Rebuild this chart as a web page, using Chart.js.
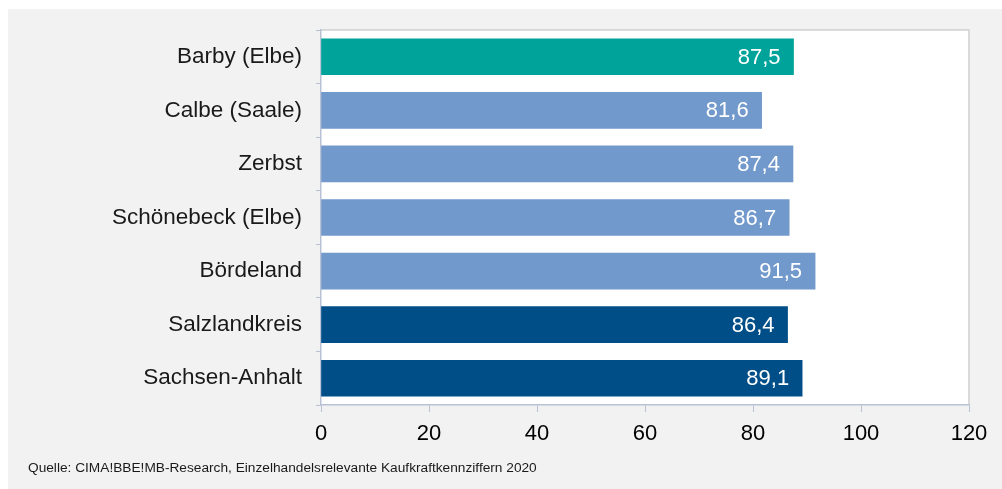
<!DOCTYPE html>
<html>
<head>
<meta charset="utf-8">
<script src="https://cdn.jsdelivr.net/npm/chart.js@4/dist/chart.umd.min.js"></script>
<style>
    html, body { margin: 0; padding: 0; background: #ffffff; }
    #wrap { position: relative; width: 1002px; height: 489px; }
</style>
</head>
<body>
<div id="wrap"><canvas id="chart" width="1002" height="489"></canvas></div>
<script>
// Kaufkraftkennziffern 2020
const places = ['Barby (Elbe)', 'Calbe (Saale)', 'Zerbst', 'Schönebeck (Elbe)', 'Bördeland', 'Salzlandkreis', 'Sachsen-Anhalt'];
const values = [87.5, 81.6, 87.4, 86.7, 91.5, 86.4, 89.1];
const barColors = ['#00a39a', '#7299cb', '#7299cb', '#7299cb', '#7299cb', '#004e87', '#004e87'];
const xTicks = [0, 20, 40, 60, 80, 100, 120];
const sourceNote = 'Quelle: CIMA!BBE!MB-Research, Einzelhandelsrelevante Kaufkraftkennziffern 2020';

const FONT = '"Liberation Sans", Arial, sans-serif';

// grey panel + white plot area behind the bars
const backdrop = {
    id: 'backdrop',
    beforeDraw(chart) {
        const ctx = chart.ctx;
        const a = chart.chartArea;
        ctx.save();
        ctx.fillStyle = '#f2f2f2';
        ctx.fillRect(8, 9, chart.width - 8, chart.height - 9);
        ctx.fillStyle = '#ffffff';
        ctx.fillRect(a.left, a.top, a.right - a.left, a.bottom - a.top);
        ctx.strokeStyle = '#d0d0d0';
        ctx.lineWidth = 1.5;
        ctx.beginPath();
        ctx.moveTo(a.left, a.top);
        ctx.lineTo(a.right, a.top);
        ctx.lineTo(a.right, a.bottom);
        ctx.stroke();
        ctx.restore();
    },
    afterDraw(chart) {
        const ctx = chart.ctx;
        ctx.save();
        ctx.fillStyle = '#1a1a1a';
        ctx.font = '13.7px ' + FONT;
        ctx.textBaseline = 'middle';
        ctx.fillText(sourceNote, 28, 468);
        ctx.restore();
    }
};

// value labels inside the end of each bar
const valueLabels = {
    id: 'valueLabels',
    afterDatasetsDraw(chart) {
        const ctx = chart.ctx;
        const meta = chart.getDatasetMeta(0);
        ctx.save();
        ctx.fillStyle = '#ffffff';
        ctx.font = '22px ' + FONT;
        ctx.textAlign = 'right';
        ctx.textBaseline = 'middle';
        meta.data.forEach((bar, i) => {
            ctx.fillText(values[i].toFixed(1).replace('.', ','), bar.x - 13, bar.y + 1);
        });
        ctx.restore();
    }
};

new Chart(document.getElementById('chart'), {
    type: 'bar',
    data: {
        labels: places,
        datasets: [{
            data: values,
            backgroundColor: barColors,
            borderWidth: 0,
            barThickness: 36
        }]
    },
    options: {
        indexAxis: 'y',
        responsive: false,
        animation: false,
        events: [],
        layout: { padding: { top: 30, right: 33, left: 0, bottom: 0 } },
        plugins: {
            legend: { display: false },
            tooltip: { enabled: false }
        },
        scales: {
            x: {
                min: 0,
                max: 120,
                afterBuildTicks(scale) {
                    scale.ticks = xTicks.map(v => ({ value: v }));
                },
                afterFit(scale) { scale.height = 84; },
                grid: {
                    drawOnChartArea: false,
                    drawTicks: true,
                    tickLength: 7,
                    color: '#b8c2d4'
                },
                border: { color: '#b8c2d4', width: 1.5 },
                ticks: {
                    color: '#000000',
                    padding: 9,
                    maxRotation: 0,
                    font: { family: FONT, size: 22 }
                }
            },
            y: {
                afterFit(scale) { scale.width = 321; },
                grid: {
                    offset: true,
                    drawOnChartArea: false,
                    tickLength: 5,
                    color: '#b8c2d4'
                },
                border: { color: '#b8c2d4', width: 1.5 },
                ticks: {
                    color: '#1a1a1a',
                    padding: 14,
                    font: { family: FONT, size: 22.5 }
                }
            }
        }
    },
    plugins: [backdrop, valueLabels]
});
</script>
</body>
</html>
